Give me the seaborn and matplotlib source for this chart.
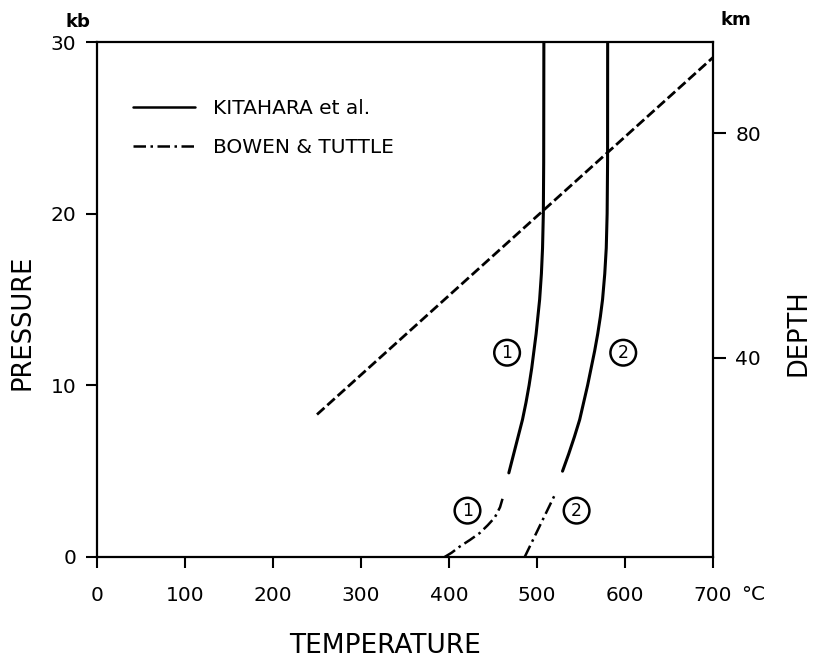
import matplotlib
matplotlib.use("Agg")
import matplotlib.pyplot as plt
import seaborn as sns
import pandas as pd

# ---- data ----
kit1_T = [468, 473.5, 478.5, 483.5, 487.5, 491, 494, 496.5, 499, 501, 503, 505, 506.3, 507.2, 507.6, 507.8]
kit1_P = [4.9, 6.0, 7.0, 8.0, 9.0, 10.0, 11.0, 12.0, 13.0, 14.0, 15.0, 16.5, 18.0, 20.0, 23.0, 30.0]
kit2_T = [529, 536, 542.5, 548.5, 553, 557.5, 561.5, 565.5, 569, 572, 574.5, 577, 578.7, 579.7, 580.2, 580.3]
kit2_P = [5.0, 6.0, 7.0, 8.0, 9.0, 10.0, 11.0, 12.0, 13.0, 14.0, 15.0, 16.5, 18.0, 20.0, 23.0, 30.0]
bt1_T = [395, 403, 412, 424, 435, 444, 452, 458, 462]
bt1_P = [0.0, 0.25, 0.6, 1.0, 1.4, 1.85, 2.3, 2.9, 3.6]
bt2_T = [486, 521]
bt2_P = [0.0, 3.7]
geo_T = [250, 700]
geo_P = [8.3, 29.1]

x_ticks = [0, 100, 200, 300, 400, 500, 600, 700]
x_ticklabels = ["0", "100", "200", "300", "400", "500", "600", "700"]
y_ticks = [0, 10, 20, 30]
depth_ticks = [40, 80]
depth_range = (4.6, 96.2)   # km at 0 kb and 30 kb

labels_upper = [("1", 466, 11.9), ("2", 598, 11.9)]
labels_lower = [("1", 421, 2.7), ("2", 545, 2.7)]

sns.set_style("ticks")
plt.rcParams["font.family"] = ["DejaVu Sans"]
plt.rcParams.update({"text.color": "black", "axes.labelcolor": "black",
                     "xtick.color": "black", "ytick.color": "black",
                     "axes.edgecolor": "black"})

fig = plt.figure(figsize=(8.13, 6.6), dpi=100)
ax = fig.add_axes([97/813, (660-557)/660, 616/813, 515/660])

dashdot = (5, 1.8, 1, 1.8)
geo_dash = (3.6, 1.4)

def curve(T, P, **kw):
    df = pd.DataFrame({"T": T, "P": P})
    sns.lineplot(data=df, x="T", y="P", sort=False, estimator=None,
                 color="black", ax=ax, **kw)

curve(kit1_T, kit1_P, lw=2.2, label="KITAHARA et al.")
curve(kit2_T, kit2_P, lw=2.2)
curve(bt1_T, bt1_P, lw=1.8, label="BOWEN & TUTTLE")
curve(bt2_T, bt2_P, lw=1.8)
curve(geo_T, geo_P, lw=2.0)
ax.lines[-1].set_linestyle((0, geo_dash))
for ln in ax.lines[2:4]:
    ln.set_linestyle((0, dashdot))

ax.set_xlim(0, 700)
ax.set_ylim(0, 30)
ax.set_xticks(x_ticks)
ax.set_xticklabels(x_ticklabels)
ax.set_yticks(y_ticks)
ax.set_xlabel("")
ax.set_ylabel("")
for s in ax.spines.values():
    s.set_linewidth(1.6)
    s.set_visible(True)
ax.tick_params(axis="both", direction="out", length=8, width=1.5,
               labelsize=14.5, top=False, right=False)
ax.tick_params(axis="x", pad=13)
ax.tick_params(axis="y", pad=7)

ax2 = ax.twinx()
ax2.set_ylim(*depth_range)
ax2.set_yticks(depth_ticks)
for s in ax2.spines.values():
    s.set_visible(False)
ax2.tick_params(axis="y", direction="out", length=9, width=1.5,
                labelsize=14.5, pad=7)

leg = ax.legend(loc="upper left", bbox_to_anchor=(0.058, 0.89), frameon=False,
                fontsize=14.5, handlelength=3.1, handletextpad=0.9,
                labelspacing=1.0, borderpad=0, borderaxespad=0)
for h in leg.get_lines():
    h.set_linewidth(1.8)

for txt, T, P in labels_upper + labels_lower:
    ax.text(T, P, txt, ha="center", va="center", fontsize=12.5,
            bbox=dict(boxstyle="circle,pad=0.22", fc="none", ec="black", lw=1.8))

fig.text(741/813, 1 - 594/660, "°C", fontsize=14.5, ha="left", va="center")
fig.text(78/813, 1 - 22/660, "kb", fontsize=13, ha="center", va="center", weight="bold")
fig.text(736/813, 1 - 20/660, "km", fontsize=13, ha="center", va="center", weight="bold")
fig.text(22/813, 1 - 322/660, "PRESSURE", fontsize=18.5, rotation=90, ha="center", va="center")
fig.text(385/813, 1 - 646/660, "TEMPERATURE", fontsize=19, ha="center", va="center")
fig.text(798/813, 1 - 333/660, "DEPTH", fontsize=18.5, rotation=90, ha="center", va="center")

fig.savefig("out.png", dpi=100)
